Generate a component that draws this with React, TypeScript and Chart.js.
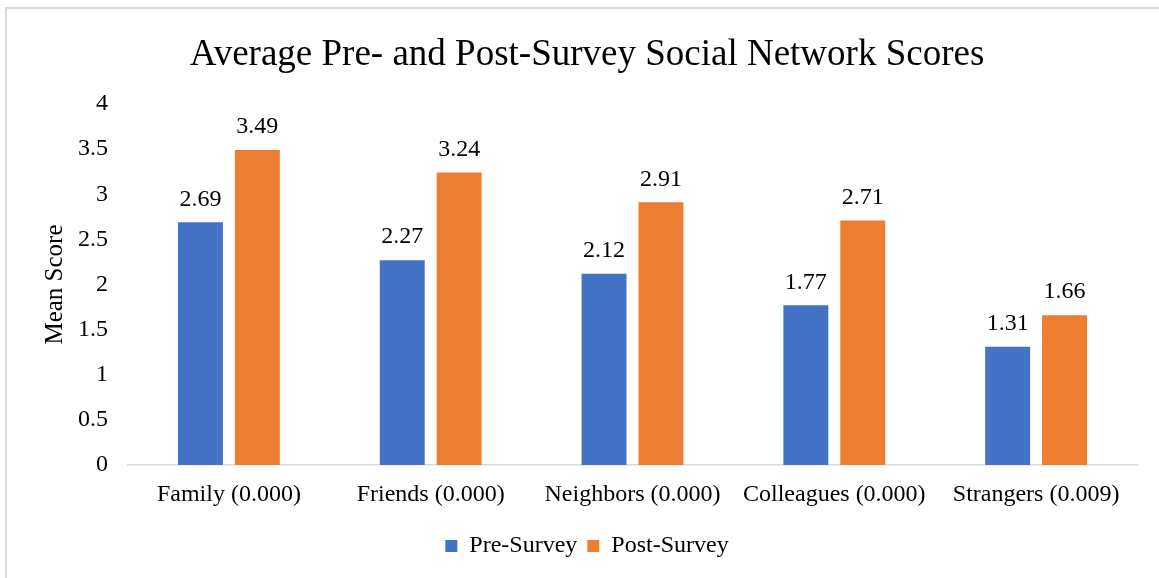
import React, { useEffect, useRef } from "react";
import { Chart, registerables } from "chart.js";

Chart.register(...registerables);

const categories = [
  "Family (0.000)",
  "Friends (0.000)",
  "Neighbors (0.000)",
  "Colleagues (0.000)",
  "Strangers (0.009)",
];
const preSurvey = [2.69, 2.27, 2.12, 1.77, 1.31];
const postSurvey = [3.49, 3.24, 2.91, 2.71, 1.66];
const seriesNames = ["Pre-Survey", "Post-Survey"];
const yTickLabels = ["0", "0.5", "1", "1.5", "2", "2.5", "3", "3.5", "4"];
const titleText = "Average Pre- and Post-Survey Social Network Scores";
const yAxisTitle = "Mean Score";

const SERIF = "'Liberation Serif', 'Times New Roman', serif";

const valueLabels = {
  id: "valueLabels",
  afterDatasetsDraw(chart: any) {
    const ctx = chart.ctx;
    ctx.save();
    ctx.font = `24px ${SERIF}`;
    ctx.fillStyle = "#000";
    ctx.textAlign = "center";
    ctx.textBaseline = "middle";
    chart.data.datasets.forEach((ds: any, di: number) => {
      const meta = chart.getDatasetMeta(di);
      meta.data.forEach((bar: any, i: number) => {
        const v = ds.data[i];
        ctx.fillText(Number(v).toFixed(2), bar.x, bar.y - 23);
      });
    });
    ctx.restore();
  },
};

export default function App() {
  const ref = useRef<HTMLCanvasElement | null>(null);
  useEffect(() => {
    if (!ref.current) return;
    const chart = new Chart(ref.current, {
      type: "bar",
      data: {
        labels: categories,
        datasets: [
          {
            label: seriesNames[0],
            data: preSurvey,
            backgroundColor: "#4472C4",
            categoryPercentage: 0.564,
            barPercentage: 0.79,
          },
          {
            label: seriesNames[1],
            data: postSurvey,
            backgroundColor: "#ED7D31",
            categoryPercentage: 0.564,
            barPercentage: 0.79,
          },
        ],
      },
      options: {
        responsive: false,
        maintainAspectRatio: false,
        animation: false,
        color: "#000",
        layout: { padding: { left: 15, right: 0, top: 0, bottom: 10 } },
        plugins: {
          title: {
            display: true,
            text: titleText,
            color: "#000",
            font: { family: SERIF, size: 37, weight: "normal" },
            padding: { top: 33, bottom: 26.6 },
          },
          legend: {
            display: true,
            position: "bottom",
            labels: {
              color: "#000",
              font: { family: SERIF, size: 24 },
              boxWidth: 12,
              boxHeight: 12,
              padding: 10,
            },
          },
          tooltip: { enabled: false },
        },
        scales: {
          x: {
            grid: { display: false, drawTicks: false },
            border: { display: true, color: "#d9d9d9", width: 1.5 },
            ticks: {
              color: "#000",
              font: { family: SERIF, size: 24 },
              padding: 15,
              maxRotation: 0,
              autoSkip: false,
            },
            afterFit(scale: any) {
              scale.height = 59;
            },
          },
          y: {
            min: 0,
            max: 4,
            grid: { display: false, drawTicks: false },
            border: { display: false },
            ticks: {
              stepSize: 0.5,
              color: "#000",
              font: { family: SERIF, size: 24 },
              padding: 20,
              callback: (_v: any, i: number) => yTickLabels[i],
            },
            title: {
              display: true,
              text: yAxisTitle,
              color: "#000",
              font: { family: SERIF, size: 25 },
              padding: { top: 25, bottom: 0 },
            },
            afterFit(scale: any) {
              scale.width = 113;
            },
          },
          yRight: {
            type: "linear",
            position: "right",
            display: true,
            grid: { display: false, drawTicks: false },
            border: { display: false },
            ticks: { display: false },
            afterFit(scale: any) {
              scale.width = 22;
            },
          },
        },
      } as any,
      plugins: [valueLabels],
    });
    return () => chart.destroy();
  }, []);

  return (
    <div
      style={{
        position: "fixed",
        left: 0,
        top: 0,
        width: 1159,
        height: 578,
        overflow: "hidden",
        background: "#fff",
      }}
    >
      <div
        style={{
          position: "absolute",
          left: 5,
          top: 7,
          width: 1200,
          height: 600,
          border: "2px solid #d9d9d9",
        }}
      />
      <canvas
        ref={ref}
        width={1159}
        height={578}
        style={{ position: "absolute", left: 0, top: 0, width: 1159, height: 578 }}
      />
    </div>
  );
}
